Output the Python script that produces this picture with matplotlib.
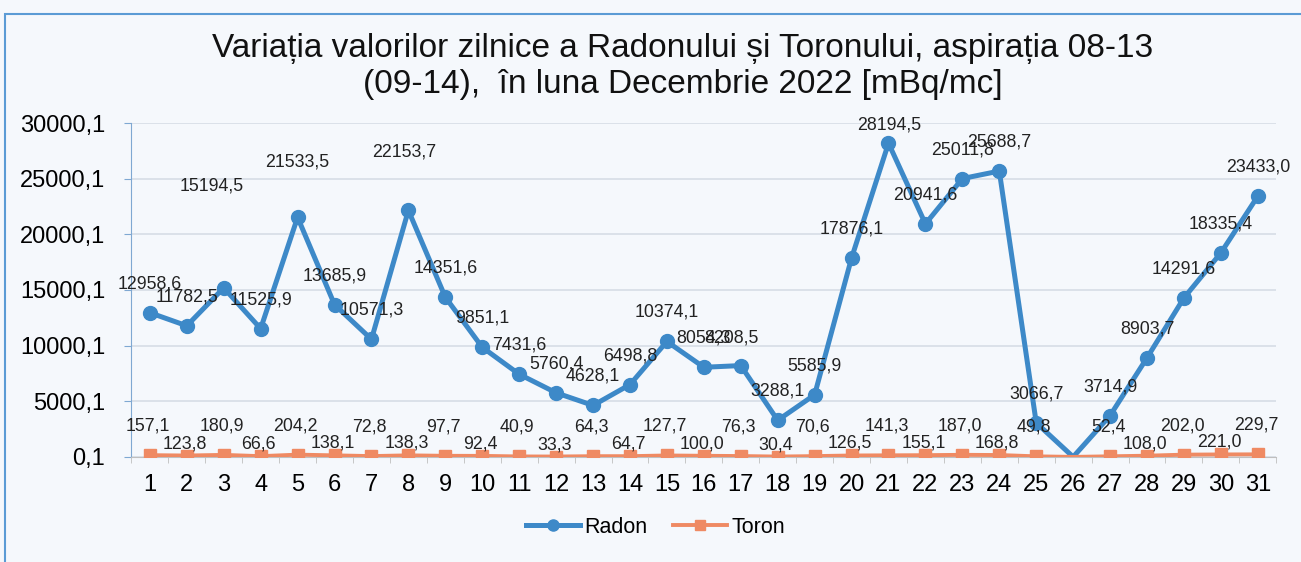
import matplotlib
matplotlib.use("Agg")
import matplotlib.pyplot as plt
from matplotlib.patches import Rectangle
import numpy as np

plt.rcParams["font.family"] = ["Liberation Sans", "DejaVu Sans"]

# --- data ---
days = list(range(1, 32))
radon = [12958.6, 11782.5, 15194.5, 11525.9, 21533.5, 13685.9, 10571.3, 22153.7,
         14351.6, 9851.1, 7431.6, 5760.4, 4628.1, 6498.8, 10374.1, 8054.3,
         8208.5, 3288.1, 5585.9, 17876.1, 28194.5, 20941.6, 25011.8, 25688.7,
         3066.7, 0.0, 3714.9, 8903.7, 14291.6, 18335.4, 23433.0]
toron = [157.1, 123.8, 180.9, 66.6, 204.2, 138.1, 72.8, 138.3, 97.7, 92.4,
         40.9, 33.3, 64.3, 64.7, 127.7, 100.0, 76.3, 30.4, 70.6, 126.5,
         141.3, 155.1, 187.0, 168.8, 49.8, 0.0, 52.4, 108.0, 202.0, 221.0, 229.7]
missing_day = 26  # no measurement that day
yticks = [0.1, 5000.1, 10000.1, 15000.1, 20000.1, 25000.1, 30000.1]

title = ("Variația valorilor zilnice a Radonului și Toronului, aspirația 08-13\n"
         "(09-14),  în luna Decembrie 2022 [mBq/mc]")

# label offsets (pixels) where Excel labels were moved by hand
radon_off = {3: (-12, -102), 5: (0, -55), 8: (-4, -58), 17: (-9, -28), 21: (1, -18)}

BLUE = "#3d89c8"
ORANGE = "#ef8a63"
BG = "#f5f8fc"

def fmt(v):
    return f"{v:.1f}".replace(".", ",")

fig = plt.figure(figsize=(13.01, 5.62), dpi=100, facecolor=BG)
fig.patches.append(Rectangle((0.004, -0.01), 1.2, 0.985, transform=fig.transFigure,
                             fill=False, edgecolor="#5b9bd5", linewidth=1.5))
ax = fig.add_axes([0.101, 0.187, 0.880, 0.594])
ax.set_facecolor(BG)

keep = [i for i, d in enumerate(days) if d != missing_day]
ax.plot(days, radon, color=BLUE, lw=3.6, marker="o", ms=10,
        markevery=keep, label="Radon", zorder=3)
ax.plot(days, toron, color=ORANGE, lw=2.8, marker="s", ms=9,
        markevery=keep, label="Toron", zorder=4)

for d, v in zip(days, radon):
    if d == missing_day:
        continue
    dx, dy = radon_off.get(d, (0, -29))
    ax.annotate(fmt(v), (d, v), xytext=(dx, -dy), textcoords="offset pixels",
                ha="center", va="center", fontsize=12.8, color="#222222", zorder=5)
for d, v in zip(days, toron):
    if d == missing_day:
        continue
    dy = 29 if d % 2 else 12
    ax.annotate(fmt(v), (d, v), xytext=(-2, dy), textcoords="offset pixels",
                ha="center", va="center", fontsize=12.8, color="#222222", zorder=5)

ax.set_xlim(0.5, 31.5)
ax.set_ylim(yticks[0], yticks[-1])
ax.set_yticks(yticks)
ax.set_yticklabels([fmt(t) for t in yticks], fontsize=17)
ax.set_xticks(days)
ax.set_xticklabels([str(d) for d in days], fontsize=17)
ax.set_xticks(np.arange(0.5, 32, 1), minor=True)
ax.tick_params(axis="x", which="major", length=0, pad=12)
ax.tick_params(axis="x", which="minor", length=4, color="#bfbfbf")
ax.tick_params(axis="y", length=5, color="#7fa8d2", pad=14)
ax.grid(axis="y", color="#d6dde6", lw=1.2)
ax.set_axisbelow(True)
for s in ["top", "right"]:
    ax.spines[s].set_visible(False)
ax.spines["left"].set_color("#7fa8d2")
ax.spines["bottom"].set_color("#bfbfbf")

fig.text(0.525, 0.882, title, ha="center", va="center", fontsize=24,
         linespacing=1.22, color="#111111")

fig.legend(loc="center", bbox_to_anchor=(0.504, 0.062), ncol=2, frameon=False,
           fontsize=15.5, handlelength=2.5, columnspacing=1.2, handletextpad=0.2,
           markerscale=0.8)

fig.savefig("out.png", dpi=100, facecolor=BG)
